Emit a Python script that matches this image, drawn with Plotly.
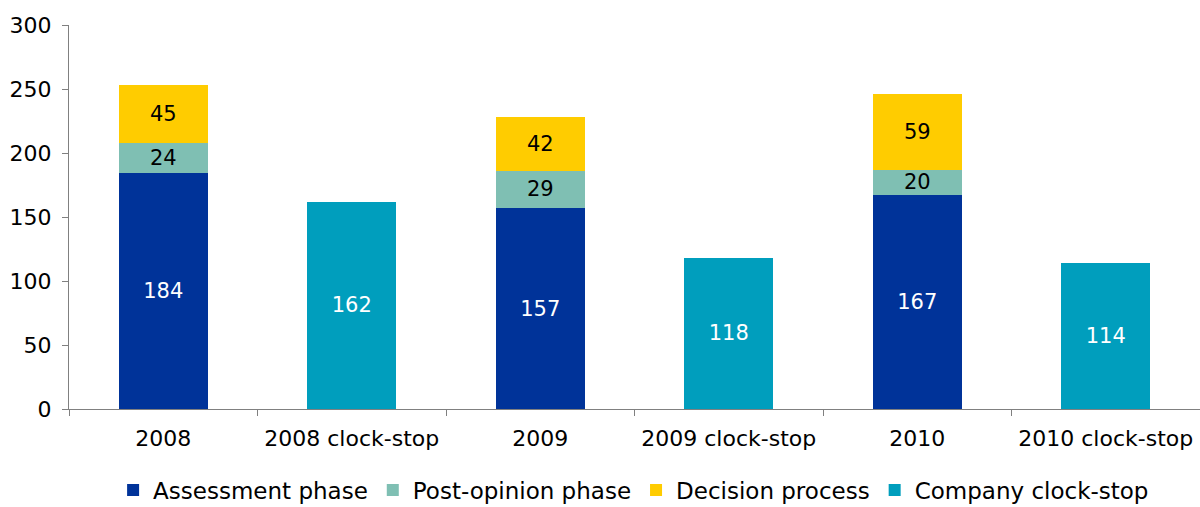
import plotly.graph_objects as go

years = ["2008", "2009", "2010"]
clock_cats = ["2008 clock-stop", "2009 clock-stop", "2010 clock-stop"]
category_order = ["2008", "2008 clock-stop", "2009", "2009 clock-stop", "2010", "2010 clock-stop"]
assessment = [184, 157, 167]
post_opinion = [24, 29, 20]
decision = [45, 42, 59]
clock_stop = [162, 118, 114]

FONT = "DejaVu Sans"
fig = go.Figure()
series = [
    ("Assessment phase", years, assessment, "#003399", "white"),
    ("Post-opinion phase", years, post_opinion, "#7FBFB3", "black"),
    ("Decision process", years, decision, "#FFCC00", "black"),
    ("Company clock-stop", clock_cats, clock_stop, "#009EBD", "white"),
]
for name, x, y, col, tcol in series:
    fig.add_trace(go.Bar(
        name=name, x=x, y=y, marker=dict(color=col, line=dict(width=0)),
        text=[str(v) for v in y], textposition="inside", insidetextanchor="middle",
        textfont=dict(color=tcol, size=21, family=FONT), width=0.47,
        hoverinfo="skip",
    ))

fig.update_layout(
    width=1200, height=507, barmode="stack",
    margin=dict(l=69, r=0, t=25, b=98, autoexpand=False),
    paper_bgcolor="white", plot_bgcolor="white",
    font=dict(family=FONT, size=22, color="black"),
    uniformtext=dict(minsize=21, mode="show"),
    showlegend=True,
    legend=dict(orientation="h", x=0.528, xanchor="center", xref="container",
                y=0.076, yanchor="top", yref="container",
                font=dict(family=FONT, size=23),
                itemwidth=30, tracegroupgap=0, traceorder="normal"),
)
fig.update_xaxes(
    type="category", categoryorder="array", categoryarray=category_order,
    showline=True, linecolor="#808080", linewidth=1, automargin=False,
    ticks="outside", tickson="boundaries", ticklen=6, tickcolor="#808080",
    showgrid=False, zeroline=False, tickfont=dict(size=22), ticklabelstandoff=10,
)
fig.update_yaxes(
    range=[0, 300], tickvals=[0, 50, 100, 150, 200, 250, 300],
    showline=True, linecolor="#808080", linewidth=1, automargin=False,
    ticks="outside", ticklen=6, tickcolor="#808080",
    showgrid=False, zeroline=False, tickfont=dict(size=22), ticklabelstandoff=6,
)
fig.write_html(
    "out.html",
    config={"displayModeBar": False},
    post_script="document.body.style.margin='0';document.body.style.overflow='hidden';",
)
